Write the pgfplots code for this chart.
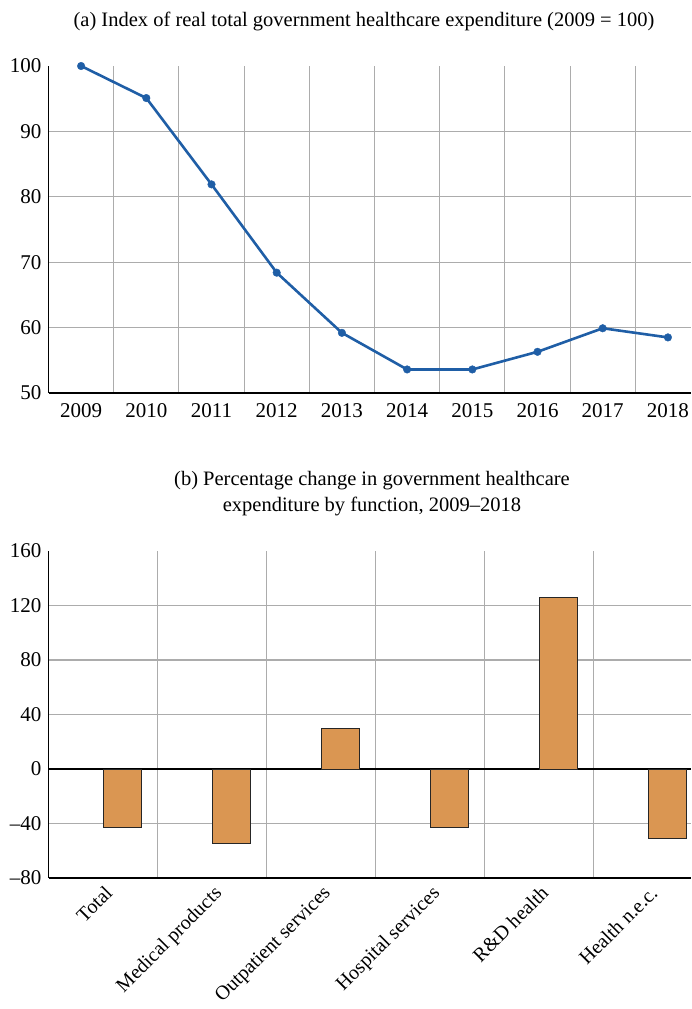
\documentclass[border=0pt]{standalone}
\usepackage{pgfplots}
\pgfplotsset{compat=1.18}
\usepackage{fontspec}
\setmainfont{Liberation Serif}
\definecolor{lineblue}{RGB}{31,94,166}
\definecolor{barorange}{RGB}{218,150,82}
\definecolor{gridgray}{RGB}{172,172,172}
\begin{document}
\fontsize{20.5}{24}\selectfont
\begin{tikzpicture}
\useasboundingbox (0,0) rectangle (691pt,-1009pt);
\pgfplotsset{
  common/.style={
    scale only axis, width=642.5pt, height=327pt,
    axis x line=bottom, axis y line=left,
    axis line style={-, black, line width=1.3pt},
    major tick length=0pt, minor tick length=0pt,
    minor grid style={gridgray, line width=1.1pt},
    tick label style={font=\fontsize{21}{24}\selectfont},
    /pgf/number format/assume math mode=true,
    clip=true,
  }
}
\node[anchor=base] at (364pt,-26pt) {(a) Index of real total government healthcare expenditure (2009 = 100)};
\node[align=center, font=\fontsize{20.5}{26}\selectfont] at (372pt,-494pt) {(b) Percentage change in government healthcare\\expenditure by function, 2009–2018};

\begin{axis}[common, at={(48.5pt,-393pt)}, anchor=south west,
  xmin=2008.5, xmax=2018.354, ymin=50, ymax=100,
  xtick={2009,2010,...,2018}, ytick={50,60,...,100},
  minor xtick={2009.5,2010.5,...,2017.5}, minor ytick={60,70,80,90},
  xminorgrids, yminorgrids,
  x tick label style={/pgf/number format/1000 sep={}},
  xticklabel style={yshift=-3pt},
]
\addplot[lineblue, line width=2.6pt, mark=*, mark size=3.8pt,
  mark options={solid, fill=lineblue, draw=lineblue, line width=0.4pt}]
  coordinates {(2009,100) (2010,95.1) (2011,81.9) (2012,68.4) (2013,59.2)
               (2014,53.6) (2015,53.6) (2016,56.3) (2017,59.9) (2018,58.5)};
\end{axis}

\begin{axis}[common, at={(48.5pt,-878pt)}, anchor=south west,
  xmin=-0.5, xmax=5.394, ymin=-80, ymax=160,
  xtick={0,1,...,5},
  xticklabels={Total, Medical products, Outpatient services, Hospital services, R\&D health, Health n.e.c.},
  xticklabel style={rotate=45, anchor=north east, inner sep=2pt, xshift=-2pt, yshift=-3pt, font=\fontsize{20}{24}\selectfont},
  ytick={-80,-40,0,40,80,120,160},
  yticklabels={–80,–40,0,40,80,120,160},
  minor xtick={0.5,1.5,...,4.5}, minor ytick={-40,40,80,120},
  xminorgrids, yminorgrids,
  extra y ticks={0}, extra y tick labels={},
  extra y tick style={grid=major, major grid style={black, line width=1.3pt}},
  ybar, bar width=0.352,
]
\addplot[fill=barorange, draw=black!85, line width=1pt]
  coordinates {(0.18,-43.2) (1.18,-54.4) (2.18,30.1) (3.18,-43.2) (4.18,126.2) (5.18,-51.2)};
\end{axis}
\end{tikzpicture}
\end{document}
